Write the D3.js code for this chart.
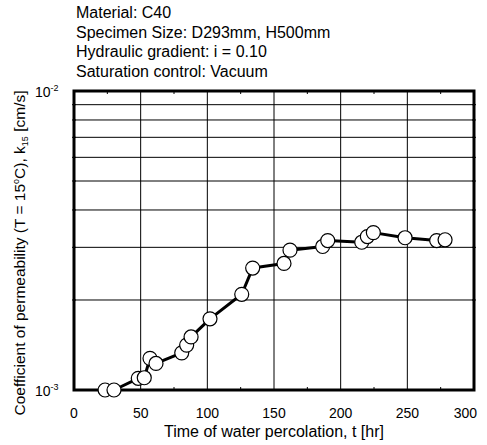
<!DOCTYPE html>
<html>
<head>
<meta charset="utf-8">
<script src="https://cdn.jsdelivr.net/npm/d3@7"></script>
<style>
  html, body { margin: 0; padding: 0; background: #fff; }
  svg { display: block; font-family: "Liberation Sans", Arial, sans-serif; }
</style>
</head>
<body>
<svg id="chart" width="487" height="445"></svg>
<script>
// Percolation time [hr] and measured permeability k15 [cm/s]
const timeHr = [23.3, 30, 48.2, 52.7, 57, 61.5, 80.8, 84.5, 87.8, 102, 125.8, 134,
                157.5, 162, 186.5, 190.3, 215.8, 220, 224.5, 248.3, 272, 278.3];
const perm = [1.00e-3, 1.00e-3, 1.094e-3, 1.099e-3, 1.276e-3, 1.227e-3, 1.331e-3, 1.413e-3,
              1.505e-3, 1.73e-3, 2.09e-3, 2.557e-3, 2.65e-3, 2.936e-3, 3.02e-3, 3.16e-3,
              3.12e-3, 3.26e-3, 3.36e-3, 3.23e-3, 3.16e-3, 3.18e-3];

const xTicks = [0, 50, 100, 150, 200, 250, 300];
const xMinorTicks = [25, 75, 125, 175, 225, 275];
const yDecades = [1e-3, 1e-2];
const yExponents = ["-3", "-2"];
const yGrid = [2e-3, 3e-3, 4e-3, 5e-3, 6e-3, 7e-3, 8e-3, 9e-3];

const headerLines = [
  "Material: C40",
  "Specimen Size: D293mm, H500mm",
  "Hydraulic gradient: i = 0.10",
  "Saturation control: Vacuum"
];

const svg = d3.select("#chart");
const plotL = 74, plotR = 474, plotT = 91, plotB = 390;

const x = d3.scaleLinear().domain([0, 300]).range([plotL, plotR]);
const y = d3.scaleLog().domain([1e-3, 1e-2]).range([plotB, plotT]);

// header block
svg.append("g").selectAll("text").data(headerLines).join("text")
  .attr("x", 76)
  .attr("y", (d, i) => 18 + i * 19.7)
  .attr("font-size", 16)
  .attr("fill", "#000")
  .text(d => d);

// grid
const grid = svg.append("g").attr("stroke", "#000").attr("stroke-width", 1);
grid.selectAll("line.gx").data(xTicks.slice(1, -1)).join("line")
  .attr("x1", d => x(d)).attr("x2", d => x(d))
  .attr("y1", plotT).attr("y2", plotB);
grid.selectAll("line.gy").data(yGrid).join("line")
  .attr("x1", plotL).attr("x2", plotR)
  .attr("y1", d => y(d)).attr("y2", d => y(d));

// minor ticks on top and bottom edges
const ticks = svg.append("g").attr("stroke", "#000").attr("stroke-width", 1);
ticks.selectAll("line.tb").data(xMinorTicks).join("line")
  .attr("x1", d => x(d)).attr("x2", d => x(d))
  .attr("y1", plotB).attr("y2", plotB - 3);
ticks.selectAll("line.tt").data(xMinorTicks).join("line")
  .attr("x1", d => x(d)).attr("x2", d => x(d))
  .attr("y1", plotT).attr("y2", plotT + 3);
// small outward ticks at the grid rows on both sides
ticks.selectAll("line.tl").data(yGrid).join("line")
  .attr("x1", plotL - 2).attr("x2", plotL + 2)
  .attr("y1", d => y(d)).attr("y2", d => y(d));
ticks.selectAll("line.tr").data(yGrid).join("line")
  .attr("x1", plotR - 2).attr("x2", plotR + 2)
  .attr("y1", d => y(d)).attr("y2", d => y(d));

// frame
svg.append("rect")
  .attr("x", plotL).attr("y", plotT)
  .attr("width", plotR - plotL).attr("height", plotB - plotT)
  .attr("fill", "none").attr("stroke", "#000").attr("stroke-width", 3);

// x tick labels; the last one is kept inside the right margin
const lastTick = xTicks[xTicks.length - 1];
svg.append("g").selectAll("text").data(xTicks).join("text")
  .attr("x", d => d === lastTick ? x(d) + 3 : x(d))
  .attr("y", 418)
  .attr("text-anchor", d => d === lastTick ? "end" : "middle")
  .attr("font-size", 14)
  .text(d => d);

// y tick labels (powers of ten)
const yl = svg.append("g").selectAll("text").data(yDecades).join("text")
  .attr("x", 35)
  .attr("y", d => y(d) + 5.5)
  .attr("font-size", 14);
yl.append("tspan").text("10");
yl.append("tspan").attr("dy", -6).attr("font-size", 9).text((d, i) => yExponents[i]);

// axis titles
svg.append("text")
  .attr("x", (plotL + plotR) / 2)
  .attr("y", 437)
  .attr("text-anchor", "middle")
  .attr("font-size", 16)
  .text("Time of water percolation, t [hr]");

const yt = svg.append("text")
  .attr("transform", "translate(25,253) rotate(-90)")
  .attr("text-anchor", "middle")
  .attr("font-size", 15.5);
yt.append("tspan").text("Coefficient of permeability (T = 15");
yt.append("tspan").attr("dy", -6).attr("font-size", 9).text("o");
yt.append("tspan").attr("dy", 6).text("C), k");
yt.append("tspan").attr("dy", 3).attr("font-size", 9).text("15");
yt.append("tspan").attr("dy", -3).text(" [cm/s]");

// series
const pts = timeHr.map((t, i) => [t, perm[i]]);
svg.append("path")
  .datum(pts)
  .attr("fill", "none")
  .attr("stroke", "#000")
  .attr("stroke-width", 3)
  .attr("stroke-linejoin", "round")
  .attr("d", d3.line().x(d => x(d[0])).y(d => y(d[1])));

svg.append("g").selectAll("circle").data(pts).join("circle")
  .attr("cx", d => x(d[0]))
  .attr("cy", d => y(d[1]))
  .attr("r", 7)
  .attr("fill", "#fff")
  .attr("stroke", "#000")
  .attr("stroke-width", 1.2);
</script>
</body>
</html>
